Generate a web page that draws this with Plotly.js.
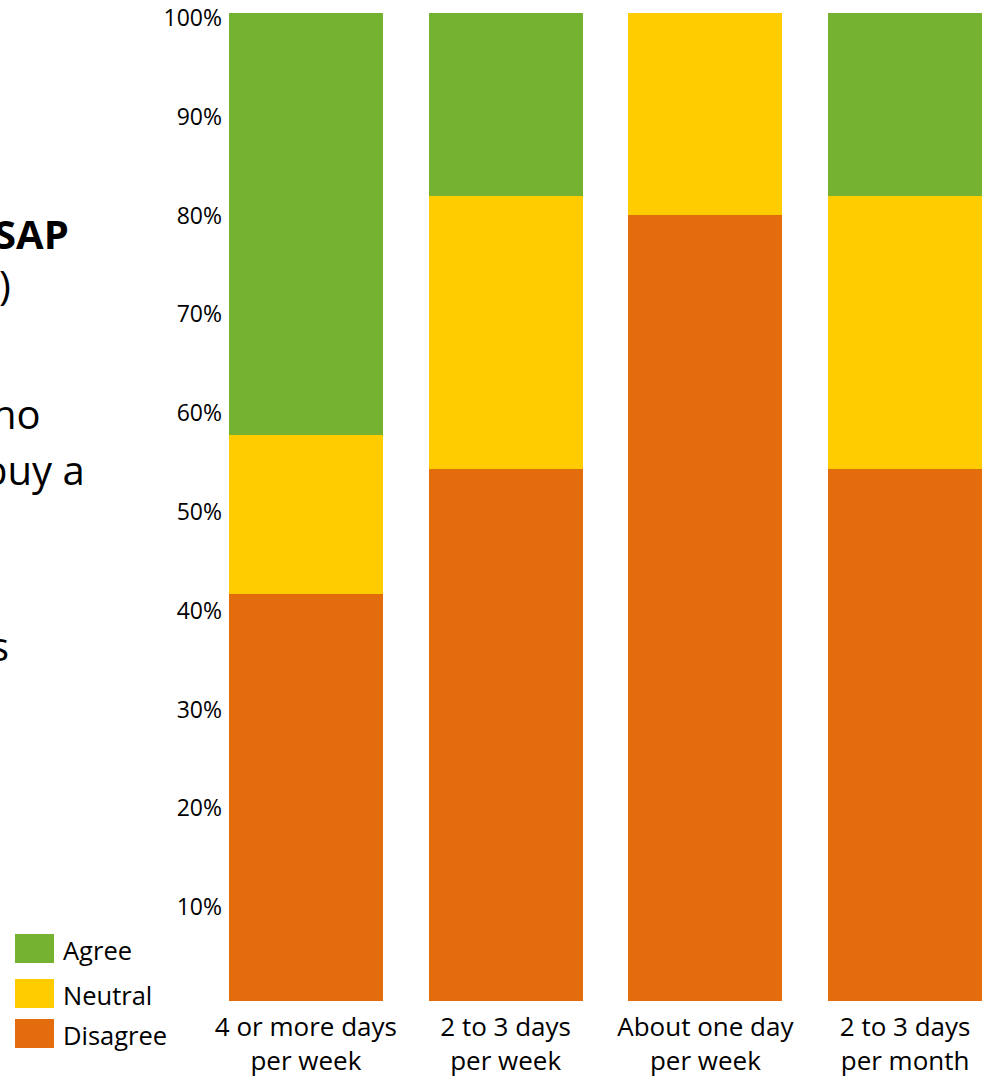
<!DOCTYPE html>
<html>
<head>
<meta charset="utf-8">
<script src="https://cdn.plot.ly/plotly-3.0.1.min.js"></script>
<style>html,body{margin:0;padding:0;background:#fff;}#chart{width:984px;height:1080px;}</style>
</head>
<body>
<div id="chart"></div>
<script>
const categories = ["4 or more days per week", "2 to 3 days per week", "About one day per week", "2 to 3 days per month"];
const tickLabels = ["4 or more days<br>per week", "2 to 3 days<br>per week", "About one day<br>per week", "2 to 3 days<br>per month"];
const disagree = [0.412, 0.538, 0.796, 0.538];
const neutral  = [0.161, 0.277, 0.204, 0.277];
const agree    = [0.427, 0.185, 0.0, 0.185];
const yTicks = [0.1, 0.2, 0.3, 0.4, 0.5, 0.6, 0.7, 0.8, 0.9, 1.0];
const legendNames = ["Agree", "Neutral", "Disagree"];
const colors = {Agree: "#76B232", Neutral: "#FFCC00", Disagree: "#E36C0C"};
const sideText = [
  {t: "<b>SAP</b>", right: 71, y: 233},
  {t: ")", right: 13, y: 284},
  {t: "no", right: 43, y: 413},
  {t: "buy a", right: 87, y: 469},
  {t: "s", right: 11, y: 645}
];

const FONT = "Open Sans, sans-serif";
const W = 984, H = 1080, L = 226, R = 0, T = 13, B = 79;
const pw = W - L - R, ph = H - T - B;
const px = p => (p - L) / pw;
const py = q => (H - B - q) / ph;

const traces = [
  {name: "Disagree", y: disagree},
  {name: "Neutral", y: neutral},
  {name: "Agree", y: agree}
].map(s => ({
  type: "bar", x: categories, y: s.y, name: s.name,
  marker: {color: colors[s.name], line: {width: 0}},
  hoverinfo: "skip"
}));

const shapes = [];
const annotations = [];
const legY = [949, 994, 1034];
legendNames.forEach((n, i) => {
  shapes.push({type: "rect", xref: "paper", yref: "paper",
    x0: px(15), x1: px(54), y0: py(legY[i] + 14), y1: py(legY[i] - 15),
    fillcolor: colors[n], line: {width: 0}});
  annotations.push({xref: "paper", yref: "paper", x: px(61), y: py(legY[i] + 1),
    xanchor: "left", yanchor: "middle", text: n, showarrow: false,
    font: {family: FONT, size: 25.5, color: "#000"}});
});
sideText.forEach(s => {
  annotations.push({xref: "paper", yref: "paper", x: px(s.right), y: py(s.y),
    xanchor: "right", yanchor: "middle", text: s.t, showarrow: false,
    font: {family: FONT, size: 40, color: "#000"}});
});

const layout = {
  width: W, height: H,
  margin: {l: L, r: R, t: T, b: B, pad: 0},
  paper_bgcolor: "#fff", plot_bgcolor: "#fff",
  barmode: "stack", bargap: 0.229,
  showlegend: false,
  xaxis: {
    type: "category", range: [-0.4, 3.395],
    tickvals: categories, ticktext: tickLabels,
    tickfont: {family: FONT, size: 26, color: "#000"},
    showgrid: false, zeroline: false, showline: false, ticks: "",
    ticklabelstandoff: 8
  },
  yaxis: {
    range: [0, 1], tickvals: yTicks, tickformat: ".0%",
    tickfont: {family: FONT, size: 23, color: "#000"},
    showgrid: false, zeroline: false, showline: false, ticks: "",
    ticklabelstandoff: 3, ticklabelshift: 5, ticklabeloverflow: "allow"
  },
  shapes: shapes,
  annotations: annotations
};

Plotly.newPlot("chart", traces, layout, {displayModeBar: false, staticPlot: true});
</script>
</body>
</html>
